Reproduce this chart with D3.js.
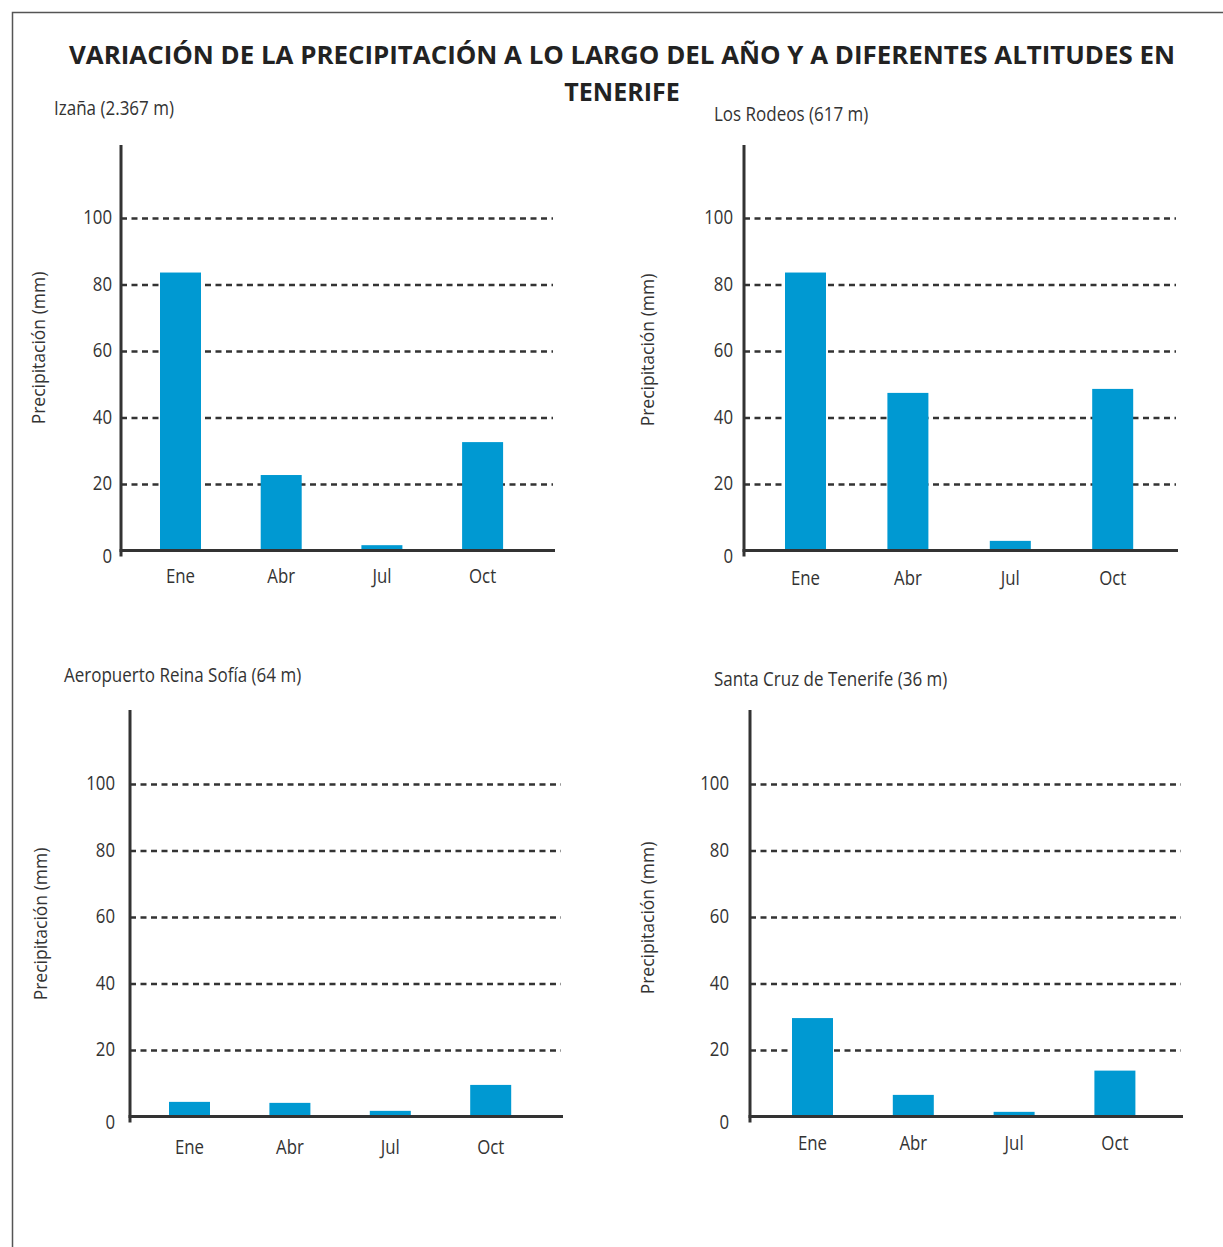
<!DOCTYPE html>
<html lang="es">
<head>
<meta charset="utf-8">
<title>Variación de la precipitación en Tenerife</title>
<script src="https://cdn.jsdelivr.net/npm/d3@7"></script>
<style>
  html, body { margin: 0; padding: 0; background: #fff; }
  svg { display: block; }
  .narrow { font-family: "Open Sans", "Noto Sans", sans-serif; fill: #333; }
  .ylab { font-family: "Open Sans", "Noto Sans", sans-serif; fill: #333; }
</style>
</head>
<body>
<script>
// Monthly precipitation (mm) at four Tenerife stations
const months = ["Ene", "Abr", "Jul", "Oct"];
const izana = [83.6, 22.7, 1.6, 32.6];
const losRodeos = [83.6, 47.4, 2.9, 48.6];
const reinaSofia = [4.4, 4.1, 1.7, 9.5];
const santaCruz = [29.6, 6.5, 1.4, 13.8];
const yTicks = [0, 20, 40, 60, 80, 100];
const stations = ["Izaña (2.367 m)", "Los Rodeos (617 m)", "Aeropuerto Reina Sofía (64 m)", "Santa Cruz de Tenerife (36 m)"];
const titleLines = ["VARIACIÓN DE LA PRECIPITACIÓN A LO LARGO DEL AÑO Y A DIFERENTES ALTITUDES EN", "TENERIFE"];
const yTitle = "Precipitación (mm)";

const W = 1223, H = 1247;
const BAR = "#0099d2", INK = "#333";

const svg = d3.select("body").append("svg").attr("width", W).attr("height", H);

// squeeze text horizontally for a condensed look
function condense(sel, k) {
  sel.each(function () {
    const len = this.getComputedTextLength();
    d3.select(this).attr("textLength", len * k).attr("lengthAdjust", "spacingAndGlyphs");
  });
}

// page frame (open on the right and bottom)
svg.append("path")
  .attr("d", `M12.5,${H} L12.5,12.5 L${W},12.5`)
  .attr("fill", "none").attr("stroke", "#555").attr("stroke-width", 1.5);

// title
const title = svg.append("text")
  .attr("text-anchor", "middle")
  .style("font-family", "'Open Sans', 'Noto Sans', sans-serif")
  .style("font-weight", 700).style("font-size", "25px").style("fill", "#222");
title.append("tspan").attr("x", 622).attr("y", 64).text(titleLines[0])
  .attr("textLength", 1106).attr("lengthAdjust", "spacingAndGlyphs");
title.append("tspan").attr("x", 622).attr("y", 101).text(titleLines[1]);

// panel geometry
const panels = [
  { name: stations[0], values: izana,      ax: 121, top: 145, y0: 550.5,  y100: 218, xEnd: 555,  barX: 160, step: 100.7,
    titleX: 54,  titleY: 115, yTitleX: 39,  yTitleY: 348, monthY: 583, tickRight: 112 },
  { name: stations[1], values: losRodeos,  ax: 744, top: 145, y0: 550.5,  y100: 218, xEnd: 1178, barX: 785, step: 102.4,
    titleX: 714, titleY: 121, yTitleX: 648, yTitleY: 350, monthY: 585, tickRight: 733 },
  { name: stations[2], values: reinaSofia, ax: 130, top: 710, y0: 1116.5, y100: 784, xEnd: 563,  barX: 169, step: 100.4,
    titleX: 64,  titleY: 682, yTitleX: 41,  yTitleY: 924, monthY: 1154, tickRight: 115 },
  { name: stations[3], values: santaCruz,  ax: 750, top: 710, y0: 1116.5, y100: 784, xEnd: 1183, barX: 792, step: 100.8,
    titleX: 714, titleY: 686, yTitleX: 648, yTitleY: 918, monthY: 1150, tickRight: 729 }
];

const barW = 41;

panels.forEach(p => {
  const g = svg.append("g");
  const y = d3.scaleLinear().domain([0, 100]).range([p.y0, p.y100]);
  const x = d3.scaleBand().domain(months)
    .range([p.barX, p.barX + 3 * p.step + barW])
    .paddingInner(1 - barW / p.step).paddingOuter(0);

  // dashed gridlines + tick labels
  const yAxis = g.append("g")
    .attr("transform", `translate(${p.ax},0)`)
    .call(d3.axisLeft(y).tickValues(yTicks).tickSize(-(p.xEnd - 2 - p.ax)).tickPadding(0).tickFormat(d3.format("d")));
  yAxis.select(".domain").remove();
  yAxis.selectAll(".tick line")
    .attr("stroke", INK).attr("stroke-width", 2.3).attr("stroke-dasharray", "6,4.5")
    .filter(d => d === 0).remove();
  yAxis.selectAll(".tick text")
    .attr("class", "narrow")
    .attr("x", -(p.ax - p.tickRight))
    .attr("dy", d => d === 0 ? "0.62em" : "0.3em")
    .style("font-size", "19.5px").style("fill", INK)
    .call(condense, 0.86);

  // bars
  g.selectAll("rect.bar").data(months.map((m, i) => ({ m, v: p.values[i] })))
    .join("rect").attr("class", "bar")
    .attr("x", d => x(d.m)).attr("width", x.bandwidth())
    .attr("y", d => y(d.v)).attr("height", d => y(0) - y(d.v))
    .attr("fill", BAR);

  // month labels
  const xAxis = g.append("g")
    .attr("transform", `translate(0,${p.monthY})`)
    .call(d3.axisBottom(x).tickSize(0).tickPadding(0));
  xAxis.select(".domain").remove();
  xAxis.selectAll(".tick text")
    .attr("class", "narrow").attr("y", 0).attr("dy", 0)
    .style("font-size", "20px").style("fill", INK)
    .call(condense, 0.84);

  // axes lines
  g.append("line").attr("x1", p.ax).attr("x2", p.ax).attr("y1", p.top).attr("y2", p.y0 + 6)
    .attr("stroke", INK).attr("stroke-width", 3);
  g.append("line").attr("x1", p.ax - 1.5).attr("x2", p.xEnd).attr("y1", p.y0).attr("y2", p.y0)
    .attr("stroke", INK).attr("stroke-width", 3);

  // station name
  g.append("text").attr("class", "narrow").attr("x", p.titleX).attr("y", p.titleY)
    .style("font-size", "20px").text(p.name)
    .call(condense, 0.85);

  // vertical axis title
  g.append("text").attr("class", "ylab")
    .attr("transform", `translate(${p.yTitleX + 6},${p.yTitleY}) rotate(-90)`)
    .attr("text-anchor", "middle")
    .style("font-size", "17.5px").text(yTitle);
});
</script>
</body>
</html>
